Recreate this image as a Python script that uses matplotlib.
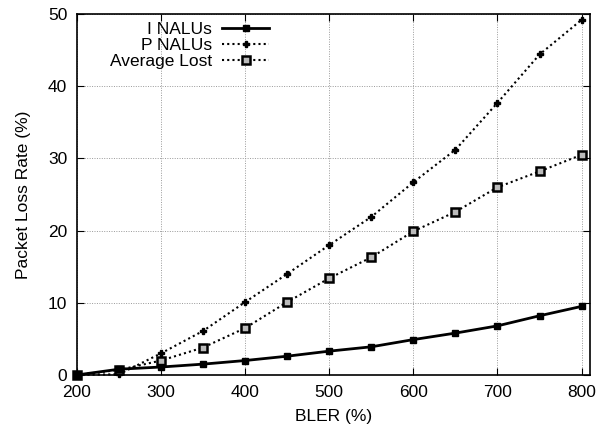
import matplotlib as mpl
mpl.use("Agg")
import matplotlib.pyplot as plt

plt.rcParams['font.family'] = ['Liberation Sans', 'DejaVu Sans']

# BLER values on the x axis
bler = [200, 250, 300, 350, 400, 450, 500, 550, 600, 650, 700, 750, 800]
# loss rates
i_nalus = [0, 0.8, 1.1, 1.5, 2.0, 2.6, 3.3, 3.9, 4.9, 5.8, 6.8, 8.2, 9.5]
p_nalus = [0, 0.1, 3.0, 6.1, 10.1, 14.0, 18.0, 21.9, 26.7, 31.2, 37.7, 44.4, 49.2]
avg_lost = [0, 0.7, 2.0, 3.8, 6.5, 10.1, 13.4, 16.3, 19.9, 22.6, 26.0, 28.2, 30.5]

xticks = [200, 300, 400, 500, 600, 700, 800]
yticks = [0, 10, 20, 30, 40, 50]

fig = plt.figure(figsize=(5.99, 4.30), dpi=100)
ax = fig.add_axes([0.1285, 0.128, 0.8565, 0.8394])

ax.plot(bler, i_nalus, color='black', lw=2, ls='-', marker='s', ms=5,
        label='I NALUs', clip_on=False, zorder=4)
ax.plot(bler, p_nalus, color='black', lw=1.5, ls=(0, (1, 1.5)), marker='P',
        ms=4, label='P NALUs', clip_on=False, zorder=3)
ax.plot(bler, avg_lost, color='black', lw=1.5, ls=(0, (1, 1.5)), marker='s',
        ms=6, mfc='#bbbbbb', mec='black', mew=1.8, label='Average Lost',
        clip_on=False, zorder=3)

ax.set_xlim(200, 810)
ax.set_ylim(0, 50)
ax.set_xticks(xticks)
ax.set_yticks(yticks)
ax.tick_params(direction='in', top=True, right=True, length=5, labelsize=12.5,
               pad=7)
ax.grid(True, color='#999999', ls=(0, (1, 1.5)), lw=0.7)
for s in ax.spines.values():
    s.set_linewidth(1.2)

ax.set_xlabel('BLER (%)', fontsize=12.5, labelpad=7)
ax.set_ylabel('Packet Loss Rate (%)', fontsize=12.5, labelpad=12)

leg = ax.legend(loc='upper right', bbox_to_anchor=(0.388, 0.997), frameon=False,
                markerfirst=False, fontsize=12.5, handlelength=2.7,
                handletextpad=0.6, labelspacing=0.05, borderaxespad=0.0)
leg._legend_box.align = 'right'

fig.savefig('out.png', dpi=100)
plt.close(fig)
